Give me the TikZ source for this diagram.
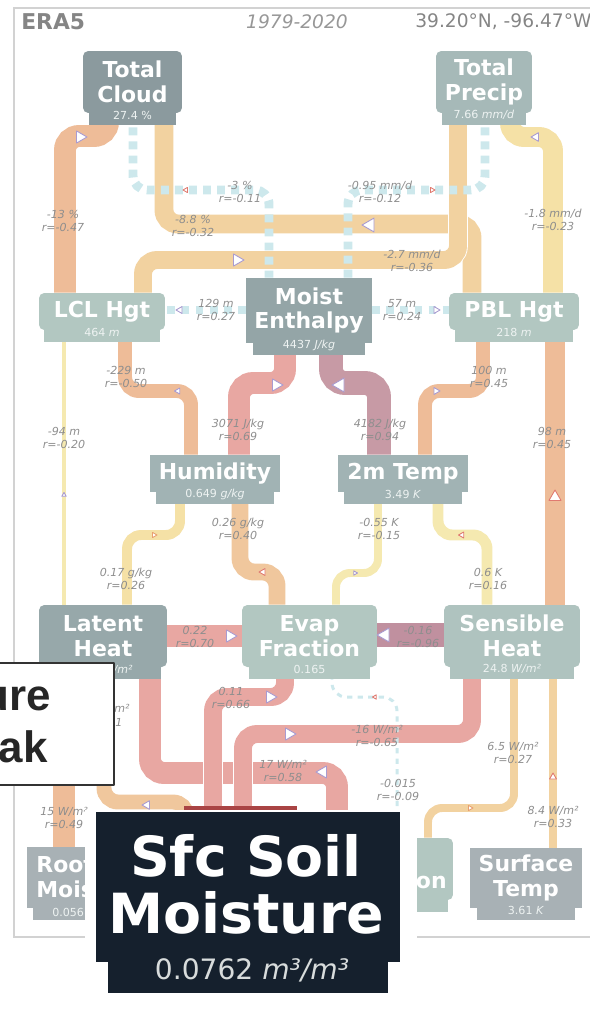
\documentclass[tikz,border=0pt]{standalone}
\usepackage{fontspec}
\setmainfont{DejaVu Sans}
\newfontfamily\calloutfont{Liberation Sans}
\pgfdeclarelayer{background}
\pgfsetlayers{background,main}

\definecolor{frameGray}{HTML}{D2D2D2}
\definecolor{headGray}{HTML}{858585}
\definecolor{labGray}{HTML}{8E8E8E}
\definecolor{valWhite}{HTML}{EEF3F2}
\definecolor{boxCloud}{HTML}{8B9A9E}
\definecolor{boxPrecip}{HTML}{A6B9B8}
\definecolor{boxPale}{HTML}{B2C7C1}
\definecolor{boxSens}{HTML}{AFC3BF}
\definecolor{boxMoist}{HTML}{94A5A7}
\definecolor{boxMid}{HTML}{A1B3B4}
\definecolor{boxLatent}{HTML}{97A8AA}
\definecolor{boxGray}{HTML}{A8B1B5}
\definecolor{soilDark}{HTML}{15202D}
\definecolor{soilRed}{HTML}{A94444}
\definecolor{soilVal}{HTML}{D8DCDC}
\definecolor{dashCyan}{HTML}{CDE8EC}
\definecolor{ribSalmon}{HTML}{EEBC98}
\definecolor{ribOrange}{HTML}{F0C79D}
\definecolor{ribApricot}{HTML}{F2D2A0}
\definecolor{ribYellow}{HTML}{F5E1A6}
\definecolor{ribPale}{HTML}{F5E9B0}
\definecolor{ribRose}{HTML}{E8A7A2}
\definecolor{ribMauve}{HTML}{C79AA5}
\definecolor{ribPlum}{HTML}{C0909F}
\definecolor{mkLav}{HTML}{A99BD0}
\definecolor{mkRed}{HTML}{E07A70}
\definecolor{mkOrange}{HTML}{E8A070}

% flow direction mark: position, angle, size, colour
\newcommand{\flowmark}[4]{\draw[mk=#4, shift={(#1)}] (#2:#3) -- (#2+120:#3) -- (#2+240:#3) -- cycle;}

\begin{document}
\begin{tikzpicture}[x=0.02cm, y=-0.02cm, line join=round,
    varbox/.style={rectangle, rounded corners=3pt, inner sep=0pt, align=center, text=white, font=\bfseries\fontsize{12.5}{14.2}\selectfont},
    sqbox/.style={varbox, rounded corners=0pt},
    valstrip/.style={rectangle, inner sep=0pt, anchor=north, minimum height=0.38cm, text=valWhite, font=\fontsize{6.3}{7}\selectfont},
    lab/.style={align=center, inner sep=0pt, text=labGray, font=\itshape\fontsize{6.3}{7.1}\selectfont},
    rib/.style={draw=white, line width=0.5pt, double distance=#1*0.5669pt, rounded corners=8pt},
    dsh/.style={draw=dashCyan, line width=#1*0.5669pt, rounded corners=8pt, dash pattern=on 4.5pt off 3.5pt},
    mk/.style={draw=#1, fill=white, line width=0.5pt}]

\useasboundingbox (0,0) rectangle (590,1017);

% header
\node[anchor=west, inner sep=0pt, text=headGray, font=\bfseries\fontsize{12.4}{14}\selectfont] (era) at (21,22) {ERA5};
\node[inner sep=0pt, text=headGray!85, font=\itshape\fontsize{10.6}{12}\selectfont] (years) at (297,22) {1979-2020};
\node[anchor=west, inner sep=0pt, text=headGray, font=\fontsize{10.6}{12}\selectfont] (loc) at (415,22) {39.20°N, -96.47°W};

% top row
\node[varbox, fill=boxCloud, minimum width=1.98cm, minimum height=1.24cm] (cloud) at (132.5,82) {Total\\Cloud};
\node[valstrip, fill=boxCloud, minimum width=1.76cm] (cloudval) at ([yshift=0.16cm]cloud.south) {27.4 \%};
\node[varbox, fill=boxPrecip, minimum width=1.92cm, minimum height=1.24cm] (precip) at (484,82) {Total\\Precip};
\node[valstrip, fill=boxPrecip, minimum width=1.68cm] (precipval) at ([yshift=0.16cm]precip.south) {7.66 \textit{mm/d}};

% heights and enthalpy
\node[varbox, fill=boxPale, minimum width=2.52cm, minimum height=0.74cm] (lcl) at (102,311.5) {LCL Hgt};
\node[valstrip, fill=boxPale, minimum width=2.34cm] (lclval) at ([yshift=0.16cm]lcl.south) {464 \textit{m}};
\node[sqbox, fill=boxMoist, minimum width=2.52cm, minimum height=1.30cm] (moist) at (309,310.5) {Moist\\Enthalpy};
\node[valstrip, fill=boxMoist, minimum width=2.26cm] (moistval) at ([yshift=0.16cm]moist.south) {4437 \textit{J/kg}};
\node[varbox, fill=boxPale, minimum width=2.60cm, minimum height=0.74cm] (pbl) at (514,311.5) {PBL Hgt};
\node[valstrip, fill=boxPale, minimum width=2.36cm] (pblval) at ([yshift=0.16cm]pbl.south) {218 \textit{m}};

% near surface air
\node[sqbox, fill=boxMid, minimum width=2.60cm, minimum height=0.74cm] (hum) at (215,473.5) {Humidity};
\node[valstrip, fill=boxMid, minimum width=2.36cm] (humval) at ([yshift=0.16cm]hum.south) {0.649 \textit{g/kg}};
\node[sqbox, fill=boxMid, minimum width=2.60cm, minimum height=0.74cm] (temp) at (403,473.5) {2m Temp};
\node[valstrip, fill=boxMid, minimum width=2.36cm] (tempval) at ([yshift=0.16cm]temp.south) {3.49 \textit{K}};

% fluxes
\node[varbox, fill=boxLatent, minimum width=2.56cm, minimum height=1.24cm] (latent) at (103,636) {Latent\\Heat};
\node[valstrip, fill=boxLatent, minimum width=2.34cm] (latentval) at ([yshift=0.16cm]latent.south) {};
\node[valstrip, anchor=east] (latentunit) at (133,670) {\textit{W/m²}};
\node[varbox, fill=boxPale, minimum width=2.70cm, minimum height=1.24cm] (evap) at (309.5,636) {Evap\\Fraction};
\node[valstrip, fill=boxPale, minimum width=2.44cm] (evapval) at ([yshift=0.16cm]evap.south) {0.165};
\node[varbox, fill=boxSens, minimum width=2.72cm, minimum height=1.24cm] (sens) at (512,636) {Sensible\\Heat};
\node[valstrip, fill=boxSens, minimum width=2.48cm] (sensval) at ([yshift=0.16cm]sens.south) {24.8 \textit{W/m²}};

% bottom row
\node[sqbox, fill=boxGray, minimum width=2.52cm, minimum height=1.22cm] (root) at (90,877.5) {};
\node[valstrip, fill=boxGray, minimum width=2.28cm] (rootval) at ([yshift=0.16cm]root.south) {};
\node[varbox, align=left, anchor=west] (roottitle) at (36,877) {Root\\Moist};
\node[valstrip, anchor=west] (rootvalue) at (52,912) {0.056};
\node[varbox, fill=boxPale, minimum width=2.52cm, minimum height=1.24cm] (onvar) at (390,869) {};
\node[valstrip, fill=boxPale, minimum width=2.32cm] (onvarval) at ([yshift=0.16cm]onvar.south) {};
\node[varbox, anchor=base east] (onvartitle) at (447,888) {on};
\node[sqbox, fill=boxGray, minimum width=2.24cm, minimum height=1.20cm] (sfct) at (526,878) {Surface\\Temp};
\node[valstrip, fill=boxGray, minimum width=1.96cm] (sfctval) at ([yshift=0.16cm]sfct.south) {3.61 \textit{K}};
\node[rectangle, fill=soilRed, minimum width=2.26cm, minimum height=1.2cm, anchor=north] (soil) at (240.5,806) {};

\begin{pgfonlayer}{background}
  % frame
  \draw[frameGray, line width=0.8pt] (600,8) -- (14,8) -- (14,937) -- (600,937);
  % solid links
  \draw[rib=22, double=ribSalmon] (lcl.north -| 65,0) -- (65,136) -- (108,136) -- (cloud.south -| 108,0);
  \draw[rib=19, double=ribApricot] (pbl.north -| 472,0) -- (472,224) -- (164,224) -- (cloud.south -| 164,0);
  \draw[rib=18, double=ribApricot] (lcl.north -| 143,0) -- (143,260) -- (458,260) -- (precip.south -| 458,0);
  \draw[rib=20, double=ribYellow] (pbl.north -| 553,0) -- (553,137) -- (510,137) -- (precip.south -| 510,0);
  \draw[rib=14, double=ribSalmon] (hum.north -| 191,0) -- (191,391) -- (125,391) -- (lcl.south -| 125,0);
  \draw[rib=22, double=ribRose] (hum.north -| 239,0) -- (239,383) -- (285,383) -- (moist.south -| 285,0);
  \draw[rib=24, double=ribMauve] (temp.north -| 379,0) -- (379,383) -- (331,383) -- (moist.south -| 331,0);
  \draw[rib=14, double=ribSalmon] (temp.north -| 425,0) -- (425,391) -- (483,391) -- (pbl.south -| 483,0);
  \draw[rib=5, double=ribPale] (latent.north -| 64,0) -- (lcl.south -| 64,0);
  \draw[rib=21, double=ribSalmon] (sens.north -| 555,0) -- (pbl.south -| 555,0);
  \draw[rib=10, double=ribYellow] (latent.north -| 127,0) -- (127,535) -- (180,535) -- (hum.south -| 180,0);
  \draw[rib=17, double=ribOrange] (evap.north -| 277,0) -- (277,572) -- (240,572) -- (hum.south -| 240,0);
  \draw[rib=8, double=ribPale] (evap.north -| 336,0) -- (336,573) -- (378,573) -- (temp.south -| 378,0);
  \draw[rib=11, double=ribPale] (sens.north -| 487,0) -- (487,535) -- (438,535) -- (temp.south -| 438,0);
  \draw[rib=22, double=ribRose] (latent.east |- 0,636) -- (evap.west |- 0,636);
  \draw[rib=24, double=ribPlum] (sens.west |- 0,635) -- (evap.east |- 0,635);
  \draw[rib=22, double=ribRose] (soil.center -| 337,0) -- (337,773) -- (150,773) -- (latent.south -| 150,0);
  \draw[rib=18, double=ribRose] (soil.center -| 213,0) -- (213,697) -- (285,697) -- (evap.south -| 285,0);
  \draw[rib=18, double=ribRose] (soil.center -| 243,0) -- (243,734) -- (472,734) -- (sens.south -| 472,0);
  \draw[rib=15, double=ribOrange] (latent.south -| 104,0) -- (104,802) -- (187,802) -- (soil.center -| 187,0);
  \draw[rib=8, double=ribApricot] (onvar.north -| 428,0) -- (428,808) -- (514,808) -- (sens.south -| 514,0);
  \draw[rib=8, double=ribApricot] (sfct.north -| 553,0) -- (sens.south -| 553,0);
  \draw[rib=22, double=ribSalmon] (root.north -| 64,0) -- (latent.south -| 64,0);
  % dashed links
  \draw[dsh=9] (cloud.south -| 133,0) -- (133,190) -- (269,190) -- (moist.north -| 269,0);
  \draw[dsh=9] (precip.south -| 485,0) -- (485,190) -- (348,190) -- (moist.north -| 348,0);
  \draw[dsh=9] (moist.west |- 0,310) -- (lcl.east |- 0,310);
  \draw[dsh=9] (moist.east |- 0,310) -- (pbl.west |- 0,310);
  \draw[dsh=3, dash pattern=on 3pt off 3pt] (onvar.north -| 397,0) -- (397,697) -- (332,697) -- (evap.south -| 332,0);
\end{pgfonlayer}

% link labels
\node[lab] (lclcloud) at (63,221) {-13 \%\\r=-0.47};
\node[lab] (cloudmoist) at (240,192) {-3 \%\\r=-0.11};
\node[lab] (precipmoist) at (380,192) {-0.95 mm/d\\r=-0.12};
\node[lab] (pblcloud) at (193,226) {-8.8 \%\\r=-0.32};
\node[lab] (lclprecip) at (412,261) {-2.7 mm/d\\r=-0.36};
\node[lab] (pblprecip) at (553,220) {-1.8 mm/d\\r=-0.23};
\node[lab] (moistlcl) at (216,310) {129 m\\r=0.27};
\node[lab] (moistpbl) at (402,310) {57 m\\r=0.24};
\node[lab] (humlcl) at (126,377) {-229 m\\r=-0.50};
\node[lab] (hummoist) at (238,430) {3071 J/kg\\r=0.69};
\node[lab] (tempmoist) at (380,430) {4182 J/kg\\r=0.94};
\node[lab] (temppbl) at (489,377) {100 m\\r=0.45};
\node[lab] (latentlcl) at (64,438) {-94 m\\r=-0.20};
\node[lab] (senspbl) at (552,438) {98 m\\r=0.45};
\node[lab] (evaphum) at (238,529) {0.26 g/kg\\r=0.40};
\node[lab] (evaptemp) at (379,529) {-0.55 K\\r=-0.15};
\node[lab] (latenthum) at (126,579) {0.17 g/kg\\r=0.26};
\node[lab] (senstemp) at (488,579) {0.6 K\\r=0.16};
\node[lab] (latentevap) at (195,637) {0.22\\r=0.70};
\node[lab] (sensevap) at (418,637) {-0.16\\r=-0.96};
\node[lab] (soilevap) at (231,698) {0.11\\r=0.66};
\node[lab] (soilsens) at (377,736) {-16 W/m²\\r=-0.65};
\node[lab] (soillatent) at (283,771) {17 W/m²\\r=0.58};
\node[lab] (onvarevap) at (398,790) {-0.015\\r=-0.09};
\node[lab] (onvarsens) at (513,753) {6.5 W/m²\\r=0.27};
\node[lab] (sfctsens) at (553,817) {8.4 W/m²\\r=0.33};
\node[lab] (rootlatent) at (64,818) {15 W/m²\\r=0.49};
\node[lab] (latentsoilA) at (122,708) {m²};
\node[lab] (latentsoilB) at (119,722) {1};

% direction marks
\flowmark{80,137}{0}{7}{mkLav}
\flowmark{186,190}{180}{3}{mkRed}
\flowmark{432,190}{0}{3}{mkRed}
\flowmark{370,225}{180}{8}{mkLav}
\flowmark{237,260}{0}{7}{mkLav}
\flowmark{536,137}{180}{5}{mkLav}
\flowmark{180,310}{180}{4}{mkLav}
\flowmark{436,310}{0}{4}{mkLav}
\flowmark{178,391}{180}{3.5}{mkLav}
\flowmark{276,385}{0}{7}{mkLav}
\flowmark{340,385}{180}{8}{mkLav}
\flowmark{436,391}{0}{4}{mkLav}
\flowmark{64,495}{270}{2.5}{mkLav}
\flowmark{555,497}{270}{7}{mkRed}
\flowmark{154,535}{0}{3}{mkOrange}
\flowmark{263,572}{180}{4}{mkRed}
\flowmark{355,573}{0}{2.5}{mkLav}
\flowmark{462,535}{180}{3.5}{mkRed}
\flowmark{230,636}{0}{7}{mkLav}
\flowmark{385,635}{180}{8}{mkLav}
\flowmark{323,772}{180}{7}{mkLav}
\flowmark{270,697}{0}{7}{mkLav}
\flowmark{289,734}{0}{7}{mkLav}
\flowmark{375,697}{180}{2.5}{mkRed}
\flowmark{470,808}{0}{3}{mkOrange}
\flowmark{553,777}{270}{4}{mkRed}
\flowmark{147,805}{180}{5}{mkLav}

% pasted soil moisture panel
\fill[white] (85,810) rectangle (417,1017);
\node[sqbox, fill=soilDark, minimum width=6.08cm, minimum height=3.0cm] (soilbig) at (248,887) {};
\node[rectangle, fill=soilDark, inner sep=0pt, minimum width=5.62cm, minimum height=0.74cm, anchor=north] (soilbigval) at ([yshift=0.14cm]soilbig.south) {};
\node[text=white, align=center, inner sep=0pt, font=\bfseries\fontsize{31.5}{32.5}\selectfont] (soiltitle) at (246,884) {Sfc Soil\\Moisture};
\node[text=soilVal, inner sep=0pt, font=\fontsize{16}{18}\selectfont] (soilvalue) at (252,970) {0.0762 \textit{m³/m³}};

% callout
\node[rectangle, draw=black!80, line width=1.2pt, fill=white, minimum width=2.38cm, minimum height=2.44cm] (callout) at (54.5,724) {};
\node[anchor=base east, inner sep=0pt, text=black!85, font=\calloutfont\bfseries\fontsize{25}{30}\selectfont] (calloutA) at (51,710) {ure};
\node[anchor=base east, inner sep=0pt, text=black!85, font=\calloutfont\bfseries\fontsize{25}{30}\selectfont] (calloutB) at (48,762) {ak};
\end{tikzpicture}
\end{document}
